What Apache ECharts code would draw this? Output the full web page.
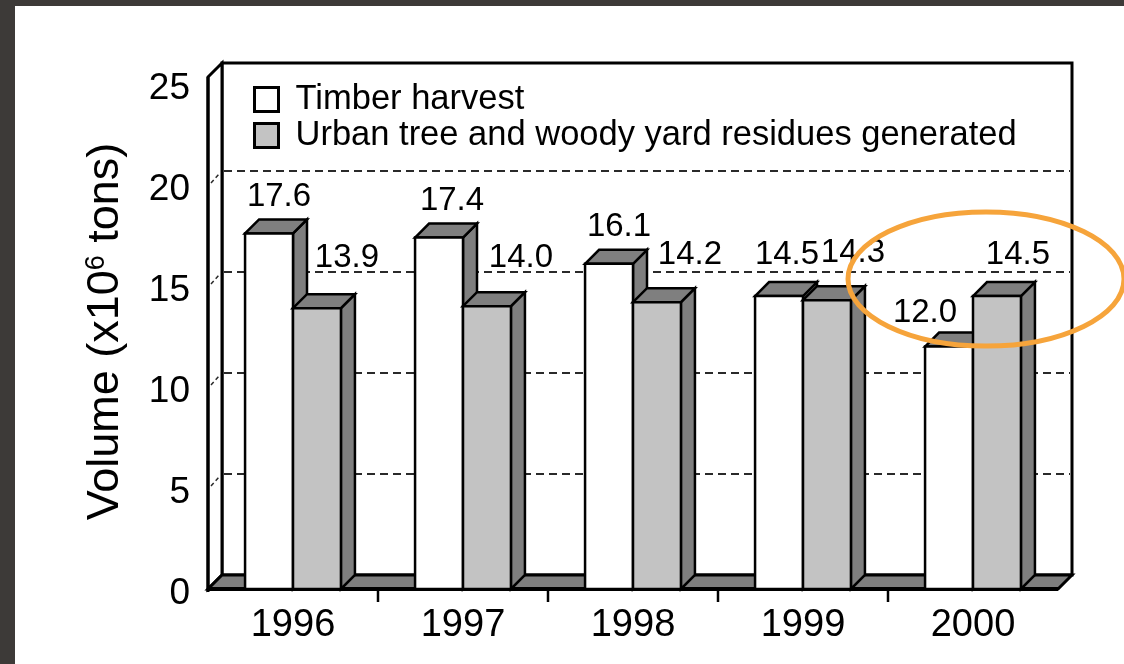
<!DOCTYPE html>
<html>
<head>
<meta charset="utf-8">
<script src="https://cdn.jsdelivr.net/npm/echarts@6/dist/echarts.min.js"></script>
<style>
  html, body { margin: 0; padding: 0; }
  body { width: 1124px; height: 664px; background: #3d3a38; position: relative; overflow: hidden; }
  #paper { position: absolute; left: 15px; top: 6px; right: 0; bottom: 0; background: #ffffff; }
  #chart { position: absolute; left: 0; top: 0; width: 1124px; height: 664px; }
</style>
</head>
<body>
<div id="paper"></div>
<div id="chart"></div>
<script>
// ---- data ----
const categories = ['1996', '1997', '1998', '1999', '2000'];
const timberHarvest = [17.6, 17.4, 16.1, 14.5, 12.0];
const urbanResidues = [13.9, 14.0, 14.2, 14.3, 14.5];
const yTicks = [0, 5, 10, 15, 20, 25];
const seriesNames = ['Timber harvest', 'Urban tree and woody yard residues generated'];

// ---- style constants ----
const FONT = "'Liberation Sans', Arial, Helvetica, sans-serif";
const DX = 14, DY = -14;          // 3D depth offset
const WALL_EXTRA = 7;             // wall rises a little above the top tick
const BAR_FRACTION = 0.282;       // each bar's share of a category band
const SIDE_COLOR = '#7f7f7f';
const TIMBER_COLOR = '#ffffff';
const URBAN_COLOR = '#c3c3c3';
const EDGE = '#000000';
// label nudges (px) relative to the bar's front-top centre
const timberNudge = [[10, -37], [13, -37], [10, -37], [8, -41], [-24, -34]];
const urbanNudge = [[30, -50], [34, -48], [33, -47], [26, -47], [21, -41]];

const yMin = yTicks[0], yMax = yTicks[yTicks.length - 1];

function renderFrame(params, api) {
  const cs = params.coordSys;
  const L = cs.x, R = cs.x + cs.width;
  const y0 = api.coord([0, yMin])[1];
  const yTop = api.coord([0, yMax])[1] - WALL_EXTRA;
  const ch = [];
  // back wall
  ch.push({ type: 'rect', shape: { x: L + DX, y: yTop + DY, width: R - L, height: y0 - yTop },
            style: { fill: '#ffffff', stroke: EDGE, lineWidth: 3 } });
  // back wall grid lines
  yTicks.forEach(v => {
    if (v > yMin && v < yMax) {
      const y = api.coord([0, v])[1];
      ch.push({ type: 'line', shape: { x1: L + DX + 2, y1: y + DY, x2: R + DX - 2, y2: y + DY },
                style: { stroke: '#2a2a2a', lineWidth: 2, lineDash: [8, 5] } });
    }
  });
  // left side wall
  ch.push({ type: 'polygon', shape: { points: [[L, yTop], [L + DX, yTop + DY], [L + DX, y0 + DY], [L, y0]] },
            style: { fill: '#ffffff', stroke: EDGE, lineWidth: 3 } });
  yTicks.forEach(v => {
    if (v > yMin && v < yMax) {
      const y = api.coord([0, v])[1];
      ch.push({ type: 'line', shape: { x1: L + 3, y1: y - 2, x2: L + DX - 2, y2: y + DY + 2 },
                style: { stroke: '#2a2a2a', lineWidth: 1.5, lineDash: [4, 3] } });
    }
  });
  // floor
  ch.push({ type: 'polygon', shape: { points: [[L, y0], [L + DX, y0 + DY], [R + DX, y0 + DY], [R, y0]] },
            style: { fill: SIDE_COLOR, stroke: EDGE, lineWidth: 3 } });
  // front edge of floor
  ch.push({ type: 'line', shape: { x1: L, y1: y0, x2: R, y2: y0 }, style: { stroke: EDGE, lineWidth: 4 } });
  ch.push({ type: 'line', shape: { x1: L, y1: yTop, x2: L, y2: y0 + 3 }, style: { stroke: EDGE, lineWidth: 3 } });
  // category ticks between bands
  const band = api.size([1, 0])[0];
  for (let i = 0; i < categories.length - 1; i++) {
    const x = api.coord([i, 0])[0] + band / 2;
    ch.push({ type: 'line', shape: { x1: x, y1: y0, x2: x, y2: y0 + 13 }, style: { stroke: EDGE, lineWidth: 2.5 } });
  }
  return { type: 'group', children: ch };
}

function makeBarRenderer(side, fill, nudges, values) {
  return function (params, api) {
    const i = api.value(0), v = api.value(1);
    const p = api.coord([i, v]);
    const cx = p[0], yv = p[1];
    const y0 = api.coord([i, 0])[1];
    const bw = api.size([1, 0])[0] * BAR_FRACTION;
    const x1 = side < 0 ? cx - bw : cx;
    const x2 = x1 + bw;
    const st = { stroke: EDGE, lineWidth: 2.5, lineJoin: 'miter' };
    const n = nudges[params.dataIndex];
    return {
      type: 'group',
      children: [
        { type: 'polygon', shape: { points: [[x2, y0], [x2 + DX, y0 + DY], [x2 + DX, yv + DY], [x2, yv]] },
          style: Object.assign({ fill: SIDE_COLOR }, st) },
        { type: 'polygon', shape: { points: [[x1, yv], [x1 + DX, yv + DY], [x2 + DX, yv + DY], [x2, yv]] },
          style: Object.assign({ fill: SIDE_COLOR }, st) },
        { type: 'rect', shape: { x: x1, y: yv, width: bw, height: y0 - yv },
          style: Object.assign({ fill: fill }, st) },
        { type: 'text', x: (x1 + x2) / 2 + n[0], y: yv + n[1],
          style: { text: values[params.dataIndex].toFixed(1), fontSize: 33, fontFamily: FONT, fill: '#000',
                   align: 'center', verticalAlign: 'middle' } }
      ]
    };
  };
}

const chart = echarts.init(document.getElementById('chart'), null, { renderer: 'canvas' });
chart.setOption({
  backgroundColor: 'transparent',
  animation: false,
  textStyle: { fontFamily: FONT },
  grid: { left: 208, right: 66, top: 84, bottom: 75, containLabel: false },
  legend: {
    orient: 'vertical', left: 253, top: 82, icon: 'rect', padding: 0,
    itemWidth: 24, itemHeight: 24, itemGap: 1,
    selectedMode: false,
    itemStyle: { borderColor: '#000', borderWidth: 3 },
    textStyle: { fontSize: 34.5, color: '#000', fontFamily: FONT, padding: [0, 0, 0, 12] },
    data: [
      { name: seriesNames[0], itemStyle: { color: TIMBER_COLOR, borderColor: '#000', borderWidth: 3 } },
      { name: seriesNames[1], itemStyle: { color: URBAN_COLOR, borderColor: '#000', borderWidth: 3 } }
    ]
  },
  xAxis: {
    type: 'category', data: categories, boundaryGap: true,
    axisLine: { show: false }, axisTick: { show: false }, splitLine: { show: false },
    axisLabel: { fontSize: 38, color: '#000', margin: 18, fontFamily: FONT }
  },
  yAxis: {
    type: 'value', min: yMin, max: yMax, interval: 5,
    axisLine: { show: false }, axisTick: { show: false }, splitLine: { show: false },
    axisLabel: { fontSize: 37, color: '#000', margin: 18, fontFamily: FONT, verticalAlign: 'top', lineHeight: 10 },
    name: 'Volume (x10{sup|6} tons)', nameLocation: 'middle', nameRotate: 90, nameGap: 80,
    nameTextStyle: { fontSize: 45, color: '#000', fontFamily: FONT, padding: [0, 0, 0, 10],
      rich: { sup: { fontSize: 27, verticalAlign: 'top', fontFamily: FONT, color: '#000', padding: [0, 0, 14, 0] } } }
  },
  series: [
    { type: 'custom', name: '_frame', silent: true, clip: false, z: 1,
      renderItem: renderFrame, data: [[0, 0]] },
    { type: 'custom', name: seriesNames[0], clip: false, z: 2,
      itemStyle: { color: TIMBER_COLOR, borderColor: '#000', borderWidth: 3 },
      renderItem: makeBarRenderer(-1, TIMBER_COLOR, timberNudge, timberHarvest),
      data: timberHarvest.map((v, i) => [i, v]) },
    { type: 'custom', name: seriesNames[1], clip: false, z: 3,
      itemStyle: { color: URBAN_COLOR, borderColor: '#000', borderWidth: 3 },
      renderItem: makeBarRenderer(1, URBAN_COLOR, urbanNudge, urbanResidues),
      data: urbanResidues.map((v, i) => [i, v]) }
  ],
  graphic: [
    { type: 'ellipse', z: 100, silent: true,
      shape: { cx: 986, cy: 279, rx: 138, ry: 67 },
      style: { fill: null, stroke: '#f6a43b', lineWidth: 5 } }
  ]
});
</script>
</body>
</html>
